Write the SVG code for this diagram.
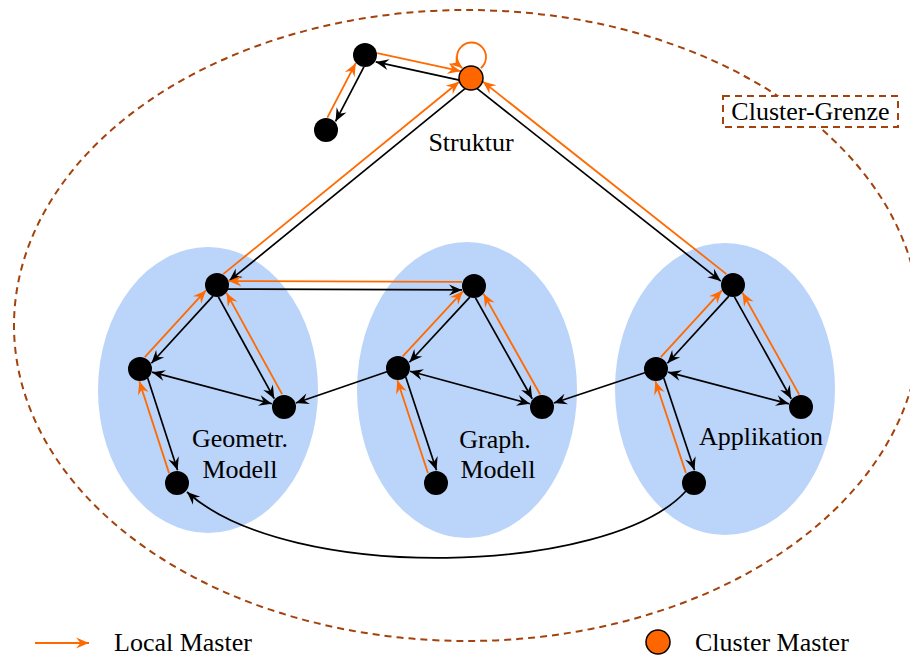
<svg xmlns="http://www.w3.org/2000/svg" width="910" height="657" viewBox="0 0 910 657">
  <defs>
    <marker id="ah" viewBox="-14 -7 15 14" markerWidth="15" markerHeight="14" refX="0" refY="0" orient="auto-start-reverse" markerUnits="userSpaceOnUse">
      <path d="M0,0 L-13,-5.5 L-8.5,0 L-13,5.5 z" fill="#000"/>
    </marker>
    <marker id="aho" viewBox="-14 -7 15 14" markerWidth="15" markerHeight="14" refX="0" refY="0" orient="auto" markerUnits="userSpaceOnUse">
      <path d="M0,0 L-13,-5.5 L-8.5,0 L-13,5.5 z" fill="#ff6a00"/>
    </marker>
    <style>
      .boundary { fill: none; stroke: #a3420c; stroke-width: 2; stroke-dasharray: 7 5; }
      .cluster { fill: #bbd4f9; stroke: none; }
      .e { stroke: #000; stroke-width: 1.7; fill: none; marker-end: url(#ah); }
      .bi { stroke: #000; stroke-width: 1.7; fill: none; marker-start: url(#ah); marker-end: url(#ah); }
      .lm { stroke: #ff6a00; stroke-width: 1.8; fill: none; marker-end: url(#aho); }
      .node { fill: #000; }
      .master { fill: #ff6600; stroke: #000; stroke-width: 1.5; }
      text { font-family: "Liberation Serif", "Times New Roman", serif; font-size: 26px; fill: #000; }
      .c { text-anchor: middle; }
    </style>
  </defs>

  <!-- outer cluster boundary -->
  <ellipse class="boundary" cx="467" cy="325.5" rx="453" ry="315.5"/>

  <!-- sub-clusters -->
  <ellipse id="cluster-geo" class="cluster" cx="208" cy="390" rx="110" ry="143"/>
  <ellipse id="cluster-graph" class="cluster" cx="467" cy="390" rx="110" ry="148"/>
  <ellipse id="cluster-app" class="cluster" cx="725" cy="389" rx="110" ry="146"/>

  <!-- connectors: orange = local master path, black = ordinary link -->
  <g id="connectors">
    <!-- top pair -->
    <g transform="translate(365,55) rotate(117.47)">
      <line class="lm" x1="73" y1="4.5" x2="11.5" y2="4.5"/>
      <line class="e" x1="11" y1="-4.5" x2="72.5" y2="-4.5"/>
    </g>
    <g transform="translate(471,78) rotate(-167.76)">
      <line class="lm" x1="97" y1="4.5" x2="11.5" y2="4.5"/>
      <line class="e" x1="11" y1="-4.5" x2="96.5" y2="-4.5"/>
    </g>
    <!-- cluster master to sub-cluster heads -->
    <g transform="translate(471,78) rotate(140.82)">
      <line class="lm" x1="316" y1="4.5" x2="11.5" y2="4.5"/>
      <line class="e" x1="11" y1="-4.5" x2="315.7" y2="-4.5"/>
    </g>
    <g transform="translate(471,78) rotate(38.31)">
      <line class="lm" x1="322" y1="-4.5" x2="11.5" y2="-4.5"/>
      <line class="e" x1="11" y1="4.5" x2="321.9" y2="4.5"/>
    </g>

    <!-- geometric model -->
    <g transform="translate(217,285) rotate(132.51)">
      <line class="lm" x1="102" y1="4.5" x2="11.5" y2="4.5"/>
      <line class="e" x1="11" y1="-4.5" x2="102" y2="-4.5"/>
    </g>
    <g transform="translate(217,285) rotate(61.23)">
      <line class="lm" x1="127" y1="-4.5" x2="11.5" y2="-4.5"/>
      <line class="e" x1="11" y1="4.5" x2="127.2" y2="4.5"/>
    </g>
    <g transform="translate(140,369) rotate(72.02)">
      <line class="lm" x1="108" y1="4.5" x2="11.5" y2="4.5"/>
      <line class="e" x1="11" y1="-4.5" x2="107.9" y2="-4.5"/>
    </g>
    <g transform="translate(140,369) rotate(14.78)">
      <line class="bi" x1="12.5" y1="0" x2="136.4" y2="0"/>
    </g>
    <g transform="translate(217,285) rotate(0.22)">
      <line class="lm" x1="245" y1="-4" x2="11.5" y2="-4"/>
      <line class="e" x1="11" y1="4" x2="245" y2="4"/>
    </g>

    <!-- graph model -->
    <g transform="translate(474,286) rotate(132.83)">
      <line class="lm" x1="100" y1="4.5" x2="11.5" y2="4.5"/>
      <line class="e" x1="11" y1="-4.5" x2="99.8" y2="-4.5"/>
    </g>
    <g transform="translate(474,286) rotate(60.66)">
      <line class="lm" x1="127" y1="-4.5" x2="11.5" y2="-4.5"/>
      <line class="e" x1="11" y1="4.5" x2="126.8" y2="4.5"/>
    </g>
    <g transform="translate(398,368) rotate(71.72)">
      <line class="lm" x1="109" y1="4.5" x2="11.5" y2="4.5"/>
      <line class="e" x1="11" y1="-4.5" x2="109.1" y2="-4.5"/>
    </g>
    <g transform="translate(398,368) rotate(15.15)">
      <line class="bi" x1="12.5" y1="0" x2="136.7" y2="0"/>
    </g>
    <g transform="translate(398,368) rotate(161.11)">
      <line class="e" x1="11" y1="0" x2="108" y2="0"/>
    </g>

    <!-- application -->
    <g transform="translate(733,285) rotate(132.51)">
      <line class="lm" x1="102" y1="4.5" x2="11.5" y2="4.5"/>
      <line class="e" x1="11" y1="-4.5" x2="102" y2="-4.5"/>
    </g>
    <g transform="translate(733,285) rotate(60.87)">
      <line class="lm" x1="128" y1="-4.5" x2="11.5" y2="-4.5"/>
      <line class="e" x1="11" y1="4.5" x2="127.7" y2="4.5"/>
    </g>
    <g transform="translate(656,369) rotate(71.57)">
      <line class="lm" x1="108" y1="4.5" x2="11.5" y2="4.5"/>
      <line class="e" x1="11" y1="-4.5" x2="108.2" y2="-4.5"/>
    </g>
    <g transform="translate(656,369) rotate(14.69)">
      <line class="bi" x1="12.5" y1="0" x2="137.4" y2="0"/>
    </g>
    <g transform="translate(656,369) rotate(161.57)">
      <line class="e" x1="11" y1="0" x2="107.7" y2="0"/>
    </g>

    <!-- long link back to the geometric model -->
    <path class="e" d="M686,491 C610,575 290,585 187,492"/>

    <!-- self loop on the cluster master -->
    <path class="lm" d="M480.8,68.1 A14.5,14.5 0 1 0 462.2,68.1"/>
  </g>

  <!-- nodes -->
  <g id="n-a"><circle class="node" cx="365" cy="55" r="12"/></g>
  <g id="n-b"><circle class="node" cx="326" cy="130" r="12"/></g>
  <g id="n-master"><circle class="master" cx="471" cy="78" r="12"/></g>

  <g id="n-l1"><circle class="node" cx="217" cy="285" r="12"/></g>
  <g id="n-l2"><circle class="node" cx="140" cy="369" r="12"/></g>
  <g id="n-l3"><circle class="node" cx="284" cy="407" r="12"/></g>
  <g id="n-l4"><circle class="node" cx="177" cy="483" r="12"/></g>

  <g id="n-m1"><circle class="node" cx="474" cy="286" r="12"/></g>
  <g id="n-m2"><circle class="node" cx="398" cy="368" r="12"/></g>
  <g id="n-m3"><circle class="node" cx="542" cy="407" r="12"/></g>
  <g id="n-m4"><circle class="node" cx="436" cy="483" r="12"/></g>

  <g id="n-r1"><circle class="node" cx="733" cy="285" r="12"/></g>
  <g id="n-r2"><circle class="node" cx="656" cy="369" r="12"/></g>
  <g id="n-r3"><circle class="node" cx="801" cy="407" r="12"/></g>
  <g id="n-r4"><circle class="node" cx="694" cy="483" r="12"/></g>

  <!-- labels -->
  <g id="labels">
    <text class="c" x="471" y="151">Struktur</text>
    <text class="c" x="240" y="447">Geometr.</text>
    <text class="c" x="240" y="478">Modell</text>
    <text class="c" x="495" y="448">Graph.</text>
    <text class="c" x="498" y="478">Modell</text>
    <text class="c" x="761" y="445">Applikation</text>
  </g>

  <!-- boundary label -->
  <g id="boundary-label">
    <rect x="723" y="96" width="175" height="31" fill="#fff" stroke="#a3420c" stroke-width="2" stroke-dasharray="7 5"/>
    <text class="c" x="810.5" y="120">Cluster-Grenze</text>
  </g>

  <!-- legend -->
  <g id="legend">
    <line class="lm" x1="35" y1="643" x2="89" y2="643"/>
    <text x="114" y="651">Local Master</text>
    <circle class="master" cx="658" cy="642" r="12"/>
    <text x="695" y="651">Cluster Master</text>
  </g>
</svg>
